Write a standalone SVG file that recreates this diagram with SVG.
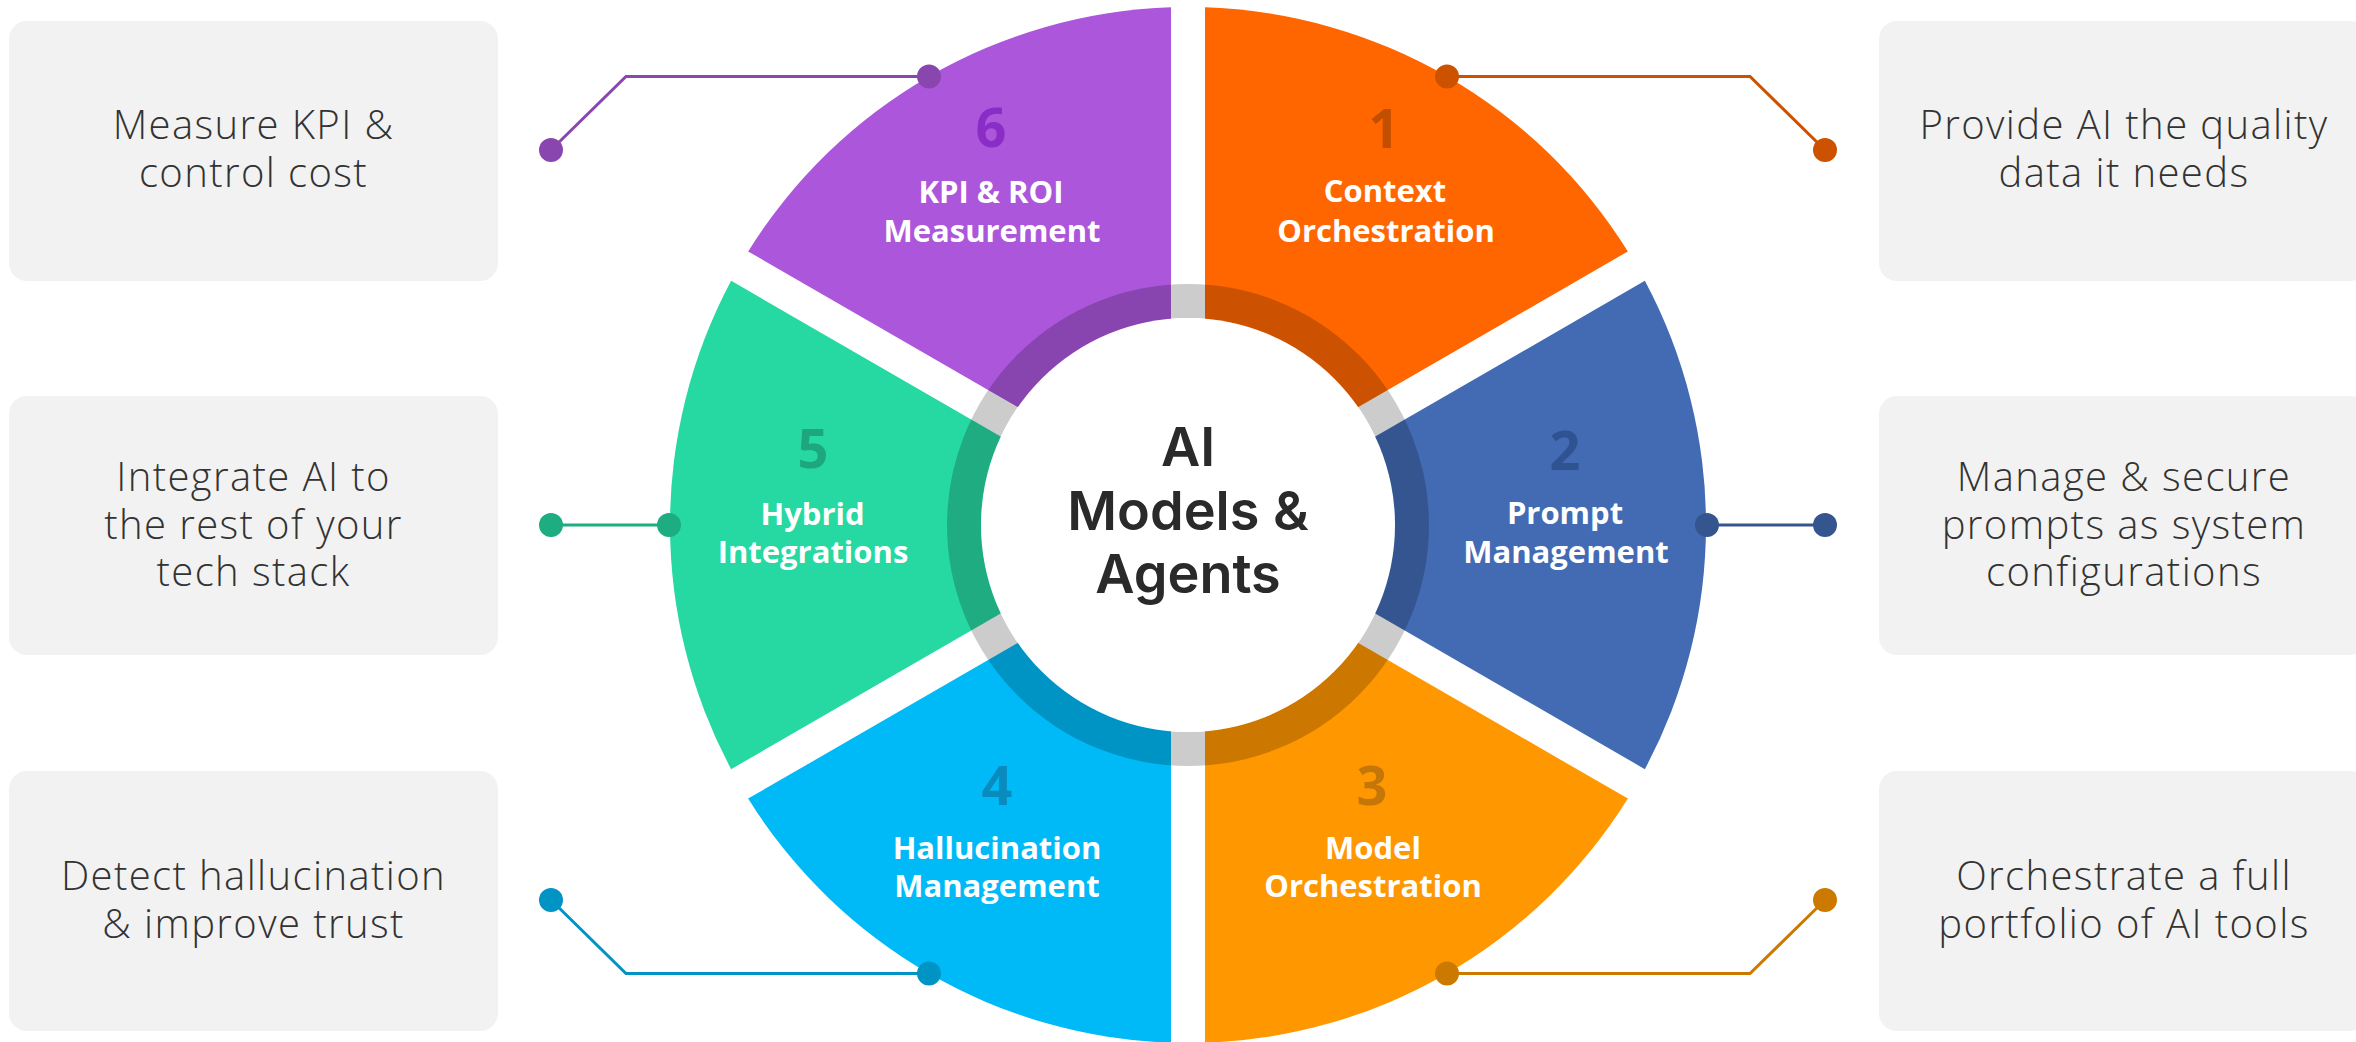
<svg xmlns="http://www.w3.org/2000/svg" width="2356" height="1042" viewBox="0 0 2356 1042">
<defs>
<style>
.box{fill:#f2f2f2}
.desc{font-family:"Open Sans","Liberation Sans",sans-serif;font-weight:300;font-size:40px;fill:#333;text-anchor:middle;letter-spacing:1.4px}
.lbl{font-family:"Open Sans","Liberation Sans",sans-serif;font-weight:700;font-size:31px;fill:#fff;text-anchor:middle}
.num{font-family:"Open Sans","Liberation Sans",sans-serif;font-weight:700;font-size:54px;text-anchor:middle}
.ctr{font-family:Inter,"Liberation Sans",sans-serif;font-weight:600;font-size:54px;fill:#2a2a2a;text-anchor:middle}
.ln{fill:none;stroke-width:3}
</style>
<path id="seg" d="M17,-29.44 L17,-517.72 A518,518 0 0 1 439.86,-273.58 Z"/>
</defs>
<rect width="2356" height="1042" fill="#fff"/>

<g id="box-left-1"><rect class="box" x="9" y="21" width="489" height="260" rx="18"/>
<text class="desc" x="253.5" y="139">Measure KPI &amp;</text><text class="desc" x="253.5" y="187">control cost</text></g>
<g id="box-left-2"><rect class="box" x="9" y="396" width="489" height="259" rx="18"/>
<text class="desc" x="253.5" y="491">Integrate AI to</text><text class="desc" x="253.5" y="538.5">the rest of your</text><text class="desc" x="253.5" y="586">tech stack</text></g>
<g id="box-left-3"><rect class="box" x="9" y="771" width="489" height="260" rx="18"/>
<text class="desc" x="253.5" y="890">Detect hallucination</text><text class="desc" x="253.5" y="938">&amp; improve trust</text></g>
<g id="box-right-1"><rect class="box" x="1879" y="21" width="489" height="260" rx="18"/>
<text class="desc" x="2124" y="139">Provide AI the quality</text><text class="desc" x="2124" y="187">data it needs</text></g>
<g id="box-right-2"><rect class="box" x="1879" y="396" width="489" height="259" rx="18"/>
<text class="desc" x="2124" y="491">Manage &amp; secure</text><text class="desc" x="2124" y="538.5">prompts as system</text><text class="desc" x="2124" y="586">configurations</text></g>
<g id="box-right-3"><rect class="box" x="1879" y="771" width="489" height="260" rx="18"/>
<text class="desc" x="2124" y="890">Orchestrate a full</text><text class="desc" x="2124" y="938">portfolio of AI tools</text></g>

<g id="seg-1"><use href="#seg" fill="#ff6600" transform="translate(1188 525) rotate(0)"/></g>
<g id="seg-2"><use href="#seg" fill="#426bb3" transform="translate(1188 525) rotate(60)"/></g>
<g id="seg-3"><use href="#seg" fill="#ff9700" transform="translate(1188 525) rotate(120)"/></g>
<g id="seg-4"><use href="#seg" fill="#00b9f7" transform="translate(1188 525) rotate(180)"/></g>
<g id="seg-5"><use href="#seg" fill="#26d8a1" transform="translate(1188 525) rotate(240)"/></g>
<g id="seg-6"><use href="#seg" fill="#ac57db" transform="translate(1188 525) rotate(300)"/></g>

<g id="hub">
<circle cx="1188" cy="525" r="224" fill="none" stroke="#000" stroke-opacity="0.2" stroke-width="34"/>
<circle cx="1188" cy="525" r="207" fill="#fff"/>
<text class="ctr" x="1188" y="466">AI</text>
<text class="ctr" x="1188" y="529.5">Models &amp;</text>
<text class="ctr" x="1188" y="593">Agents</text>
</g>

<g id="labels">
<text class="num" x="1384" y="148" fill="#c24e00">1</text>
<text class="lbl" x="1385" y="202">Context</text><text class="lbl" x="1386" y="241.5">Orchestration</text>
<text class="num" x="1565" y="470" fill="#2f5290">2</text>
<text class="lbl" x="1565" y="524">Prompt</text><text class="lbl" x="1566" y="563">Management</text>
<text class="num" x="1372" y="805" fill="#c47608">3</text>
<text class="lbl" x="1373" y="858.5">Model</text><text class="lbl" x="1373" y="897">Orchestration</text>
<text class="num" x="997" y="805" fill="#0a8bbd">4</text>
<text class="lbl" x="997" y="858.5">Hallucination</text><text class="lbl" x="997" y="897">Management</text>
<text class="num" x="813" y="468" fill="#1ea67d">5</text>
<text class="lbl" x="812.5" y="525">Hybrid</text><text class="lbl" x="813" y="563">Integrations</text>
<text class="num" x="991" y="147" fill="#8a2dc6">6</text>
<text class="lbl" x="991" y="203">KPI &amp; ROI</text><text class="lbl" x="992" y="241.5">Measurement</text>
</g>

<g id="connectors">
<polyline class="ln" stroke="#8a46af" points="929,76.5 626,76.5 551,150"/>
<circle cx="929" cy="76.5" r="12" fill="#8a46af"/><circle cx="551" cy="150" r="12" fill="#8a46af"/>
<polyline class="ln" stroke="#cc5200" points="1447,76.5 1750,76.5 1825,150"/>
<circle cx="1447" cy="76.5" r="12" fill="#cc5200"/><circle cx="1825" cy="150" r="12" fill="#cc5200"/>
<polyline class="ln" stroke="#1eac81" points="669,525 551,525"/>
<circle cx="669" cy="525" r="12" fill="#1eac81"/><circle cx="551" cy="525" r="12" fill="#1eac81"/>
<polyline class="ln" stroke="#35558f" points="1707,525 1825,525"/>
<circle cx="1707" cy="525" r="12" fill="#35558f"/><circle cx="1825" cy="525" r="12" fill="#35558f"/>
<polyline class="ln" stroke="#0094c5" points="929,973.5 626,973.5 551,900"/>
<circle cx="929" cy="973.5" r="12" fill="#0094c5"/><circle cx="551" cy="900" r="12" fill="#0094c5"/>
<polyline class="ln" stroke="#cc7900" points="1447,973.5 1750,973.5 1825,900"/>
<circle cx="1447" cy="973.5" r="12" fill="#cc7900"/><circle cx="1825" cy="900" r="12" fill="#cc7900"/>
</g>
</svg>
